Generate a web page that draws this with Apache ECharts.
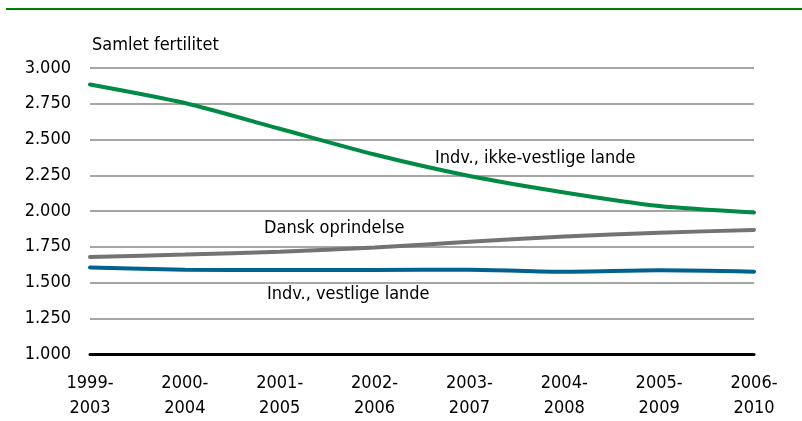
<!DOCTYPE html>
<html lang="da">
<head>
  <meta charset="UTF-8">
  <title>Samlet fertilitet</title>
  <style>
    html,
    body {
      padding: 0;
      margin: 0;
      background: #fff;
    }
    #demo {
      width: 802px;
      height: 421px;
    }
  </style>
  <script src="https://cdn.jsdelivr.net/npm/echarts@6/dist/echarts.min.js"></script>
</head>
<body>
  <div id="demo"></div>
  <script>
    const periods = ['1999-\n2003', '2000-\n2004', '2001-\n2005', '2002-\n2006', '2003-\n2007', '2004-\n2008', '2005-\n2009', '2006-\n2010']
    const ikkeVestlige = [2.885, 2.755, 2.575, 2.395, 2.245, 2.13, 2.035, 1.99]
    const dansk = [1.678, 1.695, 1.715, 1.745, 1.785, 1.822, 1.848, 1.868]
    const vestlige = [1.605, 1.59, 1.588, 1.588, 1.59, 1.575, 1.585, 1.576]

    const font = '"Liberation Sans Narrow", "DejaVu Sans Condensed", "Liberation Sans", sans-serif'
    const chart = echarts.init(document.getElementById('demo'))

    function line (name, values, color) {
      return {
        name,
        type: 'line',
        data: values,
        smooth: 0.25,
        symbol: 'none',
        lineStyle: { width: 4, color, cap: 'round' },
        z: 3
      }
    }

    // annotation text, vertically centred on y
    function note (text, x, y) {
      return {
        type: 'text',
        x,
        y,
        style: { text, font: '18px ' + font, fill: '#000', align: 'left', verticalAlign: 'middle' }
      }
    }

    const option = {
      animation: false,
      textStyle: { fontFamily: font },
      grid: { left: 90, right: 48, top: 68, bottom: 67 },
      xAxis: {
        type: 'category',
        data: periods,
        boundaryGap: false,
        axisLine: { lineStyle: { color: '#000', width: 3 } },
        axisTick: { show: false },
        axisLabel: { color: '#000', fontSize: 18, lineHeight: 25, margin: 17, fontFamily: font }
      },
      yAxis: {
        type: 'value',
        min: 1,
        max: 3,
        interval: 0.25,
        axisLine: { show: false },
        axisTick: { show: false },
        splitLine: { lineStyle: { color: '#a6a6a6', width: 2 } },
        axisLabel: {
          color: '#000',
          fontSize: 18,
          margin: 19,
          fontFamily: font,
          formatter: v => v.toFixed(3)
        }
      },
      series: [
        line('Indv., ikke-vestlige lande', ikkeVestlige, '#008a45'),
        line('Dansk oprindelse', dansk, '#737373'),
        line('Indv., vestlige lande', vestlige, '#00618f')
      ],
      graphic: [
        { type: 'line', shape: { x1: 6, y1: 9, x2: 802, y2: 9 }, style: { stroke: '#008000', lineWidth: 2 } },
        note('Samlet fertilitet', 92, 45),
        note('Indv., ikke-vestlige lande', 435, 158),
        note('Dansk oprindelse', 264, 228),
        note('Indv., vestlige lande', 267, 294)
      ]
    }
    chart.setOption(option)
  </script>
</body>
</html>
